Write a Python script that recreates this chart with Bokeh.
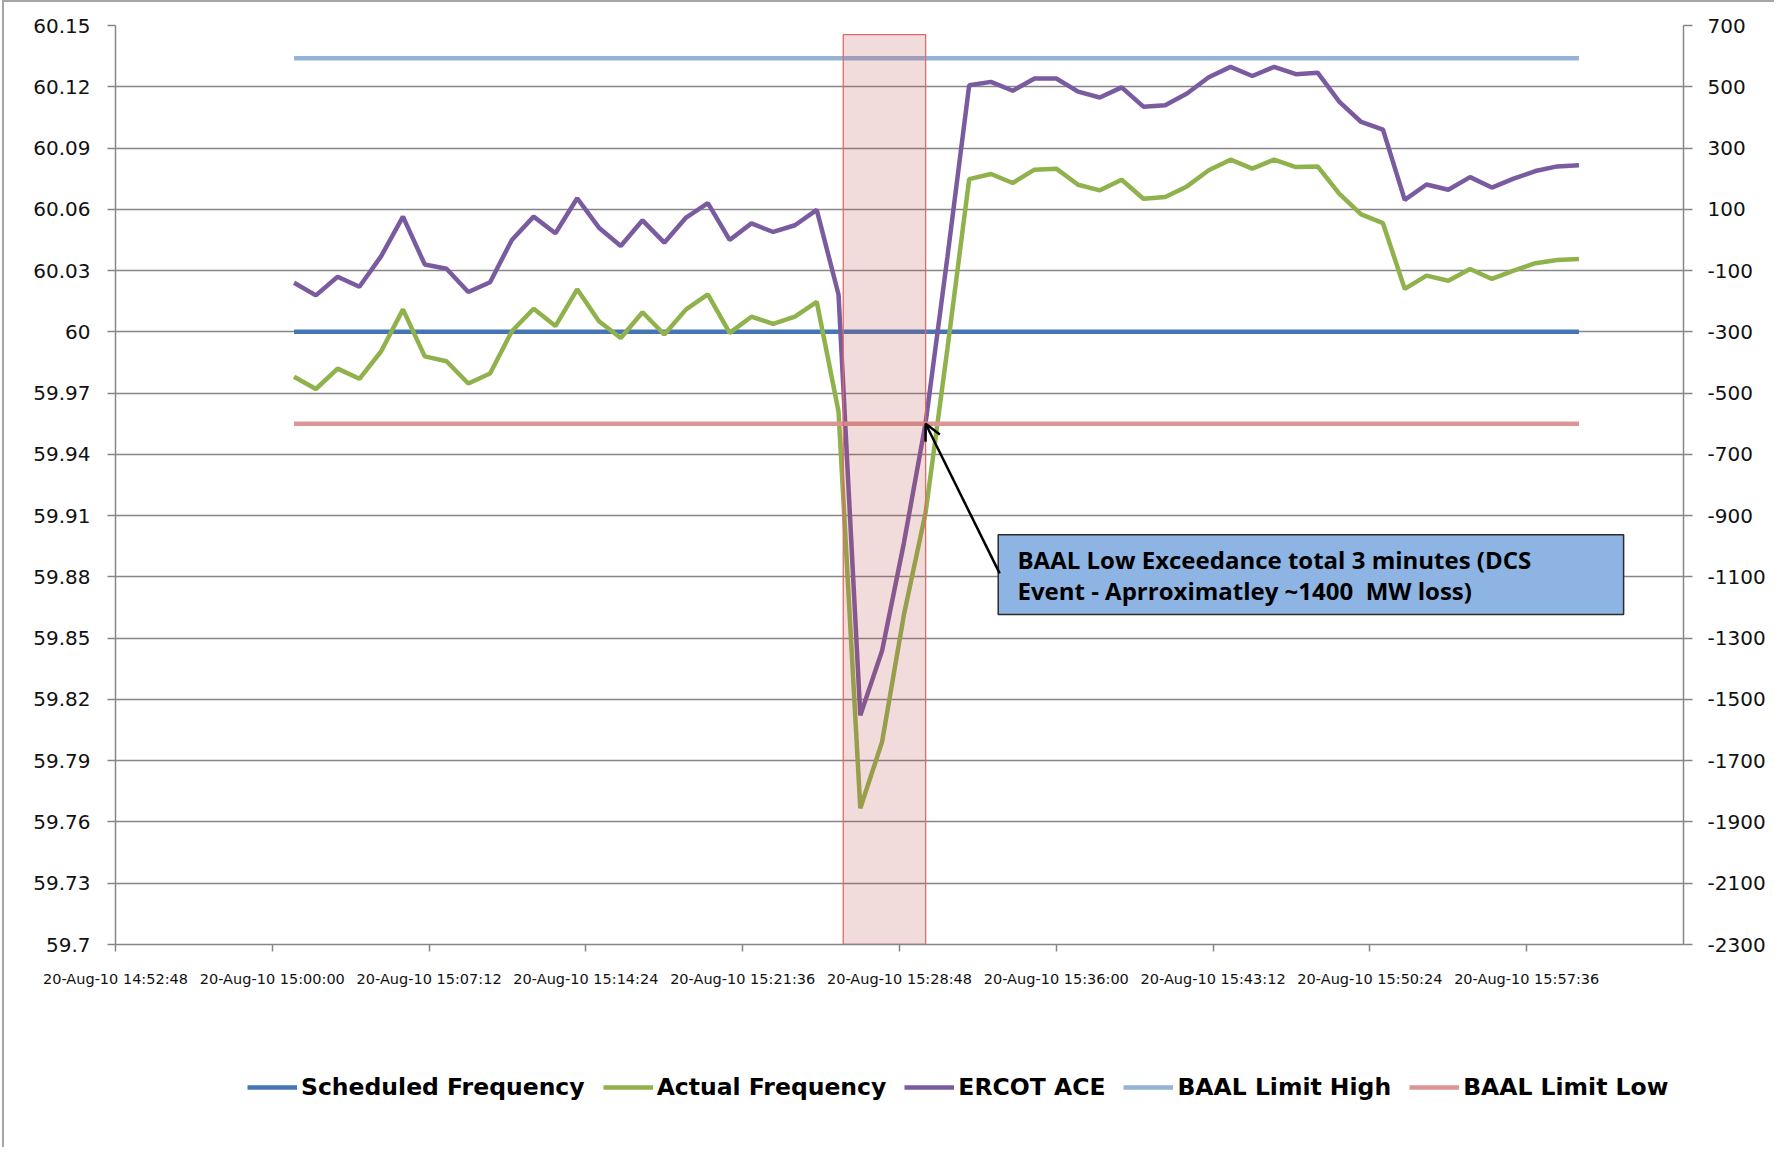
import pandas as pd
from bokeh.plotting import figure
from bokeh.layouts import column
from bokeh.models import (Range1d, LinearAxis, FixedTicker, Legend, LegendItem,
                          BoxAnnotation, Label, Arrow, OpenHead)
from bokeh.embed import file_html
from bokeh.resources import INLINE

# ---------------- data ----------------
times = pd.date_range("2010-08-20 15:01:00", periods=60, freq="min")

actual_freq = [59.978, 59.972, 59.982, 59.977, 59.9905, 60.011, 59.988, 59.9856, 59.9747, 59.9796,
               60.0003, 60.0113, 60.0028, 60.0208, 60.0052, 59.997, 60.0096, 59.9987, 60.011, 60.0183,
               59.9995, 60.0074, 60.0039, 60.0074, 60.0147, 59.961, 59.7667, 59.7992, 59.8613, 59.9116,
               59.9917, 60.0748, 60.0773, 60.0729, 60.0794, 60.0799, 60.072, 60.0693, 60.0745, 60.0652,
               60.066, 60.0712, 60.0791, 60.0843, 60.0799, 60.0843, 60.0807, 60.081, 60.0676, 60.0575,
               60.0532, 60.021, 60.0275, 60.025, 60.0308, 60.0259, 60.03, 60.0336, 60.0352, 60.0357]

ercot_ace = [-140, -181, -120, -153, -53, 76, -80, -94, -170, -138,
             0, 76, 22, 136, 40, -20, 64, -9, 73, 120,
             0, 54, 26, 48, 98, -178, -1552, -1341, -990, -597,
             -56, 505, 516, 487, 527, 527, 484, 465, 498, 435,
             440, 478, 531, 565, 535, 565, 541, 546, 451, 385,
             360, 131, 181, 164, 205, 171, 200, 225, 240, 244]

scheduled_freq = [60.0] * 60
baal_high = [60.134] * 60
baal_low = [59.955] * 60

series_names = ["Scheduled Frequency", "Actual Frequency", "ERCOT ACE",
                "BAAL Limit High", "BAAL Limit Low"]
series_colors = ["#4575B5", "#8FB24C", "#7A5BA0", "#95B3D7", "#D99694"]

y_ticks = [59.7, 59.73, 59.76, 59.79, 59.82, 59.85, 59.88, 59.91, 59.94, 59.97,
           60.0, 60.03, 60.06, 60.09, 60.12, 60.15]
y_labels = ["59.7", "59.73", "59.76", "59.79", "59.82", "59.85", "59.88", "59.91", "59.94", "59.97",
            "60", "60.03", "60.06", "60.09", "60.12", "60.15"]
ace_ticks = [-2300, -2100, -1900, -1700, -1500, -1300, -1100, -900, -700, -500,
             -300, -100, 100, 300, 500, 700]
ace_labels = ["-2300", "-2100", "-1900", "-1700", "-1500", "-1300", "-1100", "-900", "-700", "-500",
              "-300", "-100", "100", "300", "500", "700"]
x_tick_times = ["2010-08-20 14:52:48", "2010-08-20 15:00:00", "2010-08-20 15:07:12",
                "2010-08-20 15:14:24", "2010-08-20 15:21:36", "2010-08-20 15:28:48",
                "2010-08-20 15:36:00", "2010-08-20 15:43:12", "2010-08-20 15:50:24",
                "2010-08-20 15:57:36"]
x_tick_labels = ["20-Aug-10 14:52:48", "20-Aug-10 15:00:00", "20-Aug-10 15:07:12",
                 "20-Aug-10 15:14:24", "20-Aug-10 15:21:36", "20-Aug-10 15:28:48",
                 "20-Aug-10 15:36:00", "20-Aug-10 15:43:12", "20-Aug-10 15:50:24",
                 "20-Aug-10 15:57:36"]
x_start, x_end = "2010-08-20 14:52:48", "2010-08-20 16:04:48"
y_min, y_max = 59.7, 60.15
ace_min, ace_max = -2300, 700

# event shading and annotation
event_start, event_end, event_top = "2010-08-20 15:26:13", "2010-08-20 15:30:00", 60.1455
note_lines = ["BAAL Low Exceedance total 3 minutes (DCS",
              "Event - Aprroximatley ~1400\u00a0 MW loss)"]
note_box = dict(left="2010-08-20 15:33:20", right="2010-08-20 16:02:03", top=59.9006, bottom=59.8616)
note_text_x = "2010-08-20 15:34:13"
note_text_y = [59.8885, 59.8733]
arrow_from = ("2010-08-20 15:33:24", 59.8817)
arrow_to = ("2010-08-20 15:30:00", 59.955)


def ms(t):
    return pd.Timestamp(t).value / 1e6


# ---------------- main chart ----------------
W = 1770
H_MAIN, H_LEG = 992, 153

p = figure(width=W, height=H_MAIN, x_axis_type="datetime",
           x_range=Range1d(ms(x_start), ms(x_end)), y_range=Range1d(y_min, y_max),
           output_backend="svg", toolbar_location=None,
           min_border_left=111, min_border_right=91, min_border_top=23, min_border_bottom=50)
p.outline_line_color = None
p.background_fill_color = "white"
p.border_fill_color = "white"
p.extra_y_ranges = {"ace": Range1d(ace_min, ace_max)}

GRAY = "#868686"
TICK_FONT = "DejaVu Sans"

xa = p.xaxis[0]
x_ms = [int(pd.Timestamp(t).value // 10**6) for t in x_tick_times]
xa.ticker = FixedTicker(ticks=x_ms)
xa.major_label_overrides = {k: lab for k, lab in zip(x_ms, x_tick_labels)}
xa.axis_line_color = GRAY
xa.axis_line_width = 1.5
xa.major_tick_line_color = GRAY
xa.major_tick_line_width = 1.5
xa.major_tick_out = 7
xa.major_tick_in = 0
xa.minor_tick_line_color = None
xa.major_label_standoff = 19
xa.major_label_text_font = TICK_FONT
xa.major_label_text_font_size = "14.5px"
xa.major_label_text_color = "#111111"

ya = p.yaxis[0]
ya.ticker = FixedTicker(ticks=y_ticks)
ya.major_label_overrides = {k: lab for k, lab in zip(y_ticks, y_labels)}
ya.axis_line_color = GRAY
ya.axis_line_width = 1.5
ya.major_tick_line_color = GRAY
ya.major_tick_line_width = 1.5
ya.major_tick_out = 8
ya.major_tick_in = 0
ya.minor_tick_line_color = None
ya.major_label_standoff = 17
ya.major_label_text_font = TICK_FONT
ya.major_label_text_font_size = "20px"
ya.major_label_text_color = "#111111"

ra = LinearAxis(y_range_name="ace", ticker=FixedTicker(ticks=ace_ticks))
ra.major_label_overrides = {k: lab for k, lab in zip(ace_ticks, ace_labels)}
ra.axis_line_color = GRAY
ra.axis_line_width = 1.5
ra.major_tick_line_color = GRAY
ra.major_tick_line_width = 1.5
ra.major_tick_out = 9
ra.major_tick_in = 0
ra.minor_tick_line_color = None
ra.major_label_standoff = 15
ra.major_label_text_font = TICK_FONT
ra.major_label_text_font_size = "20px"
ra.major_label_text_color = "#111111"
p.add_layout(ra, "right")

p.xgrid.grid_line_color = None
p.ygrid.grid_line_color = GRAY
p.ygrid.grid_line_width = 1.3
p.ygrid.ticker = FixedTicker(ticks=y_ticks)

LW = 4.5
series_y = [scheduled_freq, actual_freq, ercot_ace, baal_high, baal_low]
series_axis = ["default", "default", "ace", "default", "default"]
for ys, col, rng in zip(series_y, series_colors, series_axis):
    p.line(times, ys, line_color=col, line_width=LW, y_range_name=rng)

# event shading drawn over the lines
p.quad(left=[ms(event_start)], right=[ms(event_end)], bottom=[y_min], top=[event_top],
       fill_color="#C0504D", fill_alpha=0.2, line_color="#E06A6A", line_width=1.3)

# annotation box
p.add_layout(BoxAnnotation(left=ms(note_box["left"]), right=ms(note_box["right"]),
                           top=note_box["top"], bottom=note_box["bottom"],
                           fill_color="#8DB4E3", fill_alpha=1.0,
                           line_color="#2b2b2b", line_width=1.5, line_alpha=1.0))
for txt, ty in zip(note_lines, note_text_y):
    p.add_layout(Label(x=ms(note_text_x), y=ty, text=txt, text_baseline="middle",
                       text_align="left", text_font="Open Sans", text_font_size="24px",
                       text_font_style="bold", text_color="#000000"))

p.add_layout(Arrow(x_start=ms(arrow_from[0]), y_start=arrow_from[1],
                   x_end=ms(arrow_to[0]), y_end=arrow_to[1],
                   line_color="black", line_width=2.5,
                   end=OpenHead(size=16, line_color="black", line_width=2.5)))

# ---------------- legend strip (same series, plotted outside its view) ----------------
q = figure(width=W, height=H_LEG, x_axis_type="datetime",
           x_range=Range1d(0, 1), y_range=Range1d(0, 1),
           output_backend="svg", toolbar_location=None,
           min_border_left=0, min_border_right=0, min_border_top=0, min_border_bottom=0)
q.axis.visible = False
q.grid.visible = False
q.outline_line_color = None
q.background_fill_color = "white"
q.border_fill_color = "white"
leg_renderers = [q.line(times, ys, line_color=col, line_width=LW)
                 for ys, col in zip(series_y, series_colors)]

legend = Legend(items=[LegendItem(label=n, renderers=[r]) for n, r in
                       zip(series_names, leg_renderers)],
                orientation="horizontal", location=(132, 45))
legend.label_text_font = "DejaVu Sans"
legend.label_text_font_style = "bold"
legend.label_text_font_size = "23.5px"
legend.label_text_color = "#000000"
legend.glyph_width = 50
legend.glyph_height = 30
legend.label_height = 30
legend.label_standoff = 4
legend.spacing = 18
legend.padding = 0
legend.margin = 0
legend.border_line_color = None
legend.background_fill_alpha = 0
q.add_layout(legend)

layout = column(p, q, spacing=0,
                styles={"margin-left": "2px", "border-left": "2px solid #a6a6a6",
                        "border-top": "2px solid #a6a6a6"})

open("out.html", "w").write(file_html(layout, INLINE))
